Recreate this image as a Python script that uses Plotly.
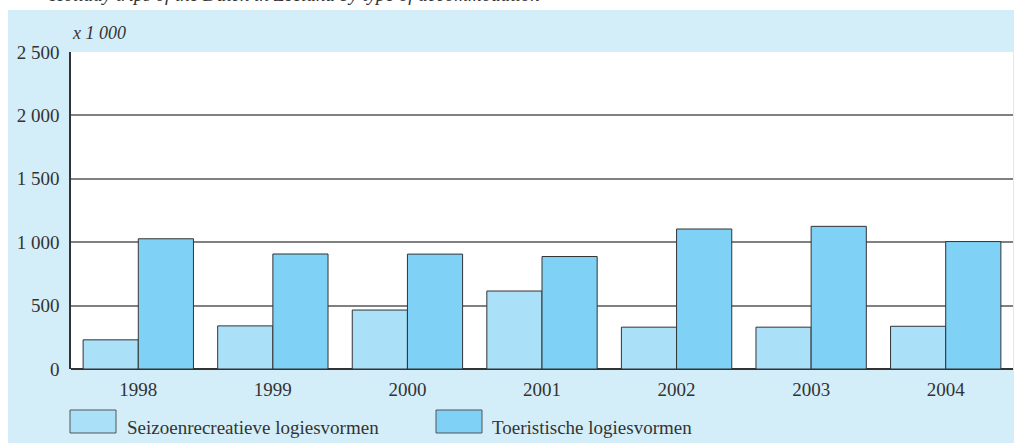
import plotly.graph_objects as go

years = ["1998", "1999", "2000", "2001", "2002", "2003", "2004"]
series_names = ["Seizoenrecreatieve logiesvormen", "Toeristische logiesvormen"]
seizoen = [230, 340, 465, 615, 330, 330, 337]
toeristisch = [1027, 907, 906, 887, 1104, 1125, 1005]
y_tickvals = [0, 500, 1000, 1500, 2000, 2500]
y_ticktext = ["0", "500", "1 000", "1 500", "2 000", "2 500"]
unit_label = "x 1 000"
title_text = "Holiday trips of the Dutch in Zeeland by type of accommodation"

light = "#aae0f8"
dark = "#7fd2f5"
panel = "#d4eef9"
edge = "#333333"
FONT = "Liberation Serif"

W, H = 1014, 443
L, R, T, B = 71, 1, 52, 74
pw, ph = W - L - R, H - T - B


def px_x(x):
    return (x - L) / pw


def px_y(y):
    return (H - B - y) / ph


fig = go.Figure()
fig.add_trace(go.Bar(x=years, y=seizoen, name=series_names[0], marker=dict(color=light, line=dict(color=edge, width=1)), showlegend=False))
fig.add_trace(go.Bar(x=years, y=toeristisch, name=series_names[1], marker=dict(color=dark, line=dict(color=edge, width=1)), showlegend=False))

shapes = [
    dict(type="rect", xref="paper", yref="paper", x0=px_x(-5), x1=px_x(W + 5), y0=px_y(10), y1=px_y(-5),
         fillcolor="white", line=dict(width=0), layer="below"),
    dict(type="rect", xref="paper", yref="paper", x0=px_x(-5), x1=px_x(8), y0=px_y(H + 5), y1=px_y(-5),
         fillcolor="white", line=dict(width=0), layer="below"),
]
annotations = [
    dict(text="<i>" + unit_label + "</i>", xref="paper", yref="paper", x=px_x(70), y=px_y(33),
         xanchor="left", yanchor="middle", showarrow=False, font=dict(family=FONT, size=18, color="#333")),
    dict(text="<i>" + title_text + "</i>", xref="paper", yref="paper", x=px_x(47), y=px_y(7),
         xanchor="left", yanchor="bottom", showarrow=False, font=dict(family=FONT, size=19, color="#333")),
]
legend_pos = [(70, 116, 125), (436, 482, 490)]
for (x0, x1, tx), col, name in zip(legend_pos, [light, dark], series_names):
    shapes.append(dict(type="rect", xref="paper", yref="paper", x0=px_x(x0), x1=px_x(x1), y0=px_y(433), y1=px_y(410),
                       fillcolor=col, line=dict(color="#555", width=1)))
    annotations.append(dict(text=name, xref="paper", yref="paper", x=px_x(tx), y=px_y(427), xanchor="left",
                            yanchor="middle", showarrow=False, font=dict(family=FONT, size=19, color="#333")))

fig.update_layout(
    width=W, height=H,
    margin=dict(l=L, r=R, t=T, b=B, pad=0),
    paper_bgcolor=panel, plot_bgcolor="white",
    barmode="group", bargap=0.18, bargroupgap=0,
    font=dict(family=FONT, size=18, color="#333"),
    shapes=shapes, annotations=annotations,
    showlegend=False,
)
fig.update_xaxes(showgrid=False, ticks="outside", ticklen=3, tickcolor="rgba(0,0,0,0)",
                 showline=False, tickfont=dict(family=FONT, size=19, color="#333"), range=[-0.5, 6.5])
fig.update_yaxes(range=[0, 2500], tickvals=y_tickvals, ticktext=y_ticktext, showgrid=True, gridcolor="#808080",
                 gridwidth=1.5, showline=True, linecolor="#333", linewidth=1.5, zeroline=True, zerolinecolor="#333",
                 zerolinewidth=1.5, ticks="outside", ticklen=6, tickcolor="rgba(0,0,0,0)",
                 tickfont=dict(family=FONT, size=19, color="#333"))

fig.write_html("out.html", config={"displayModeBar": False},
               post_script="document.body.style.margin='0';document.body.style.overflow='hidden';")
